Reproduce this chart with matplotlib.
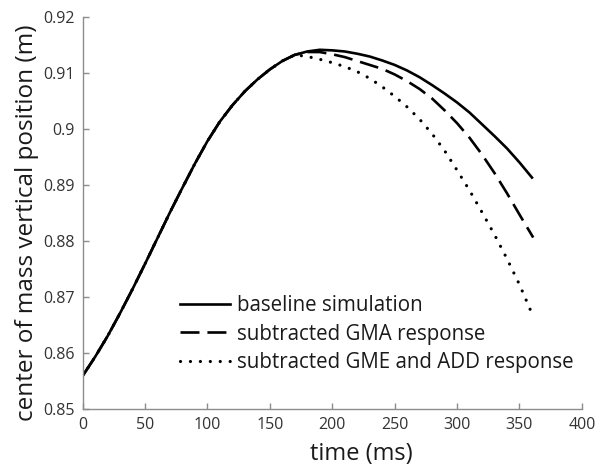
import numpy as np
import matplotlib
matplotlib.use("Agg")
import matplotlib.pyplot as plt

plt.rcParams['font.family'] = ['Open Sans', 'DejaVu Sans']

# shared rising part (all three curves overlap here)
t_rise = [0, 10, 20, 30, 40, 50, 60, 70, 80, 90, 100, 110, 120, 130, 140, 150, 160, 170]
y_rise = [0.8559, 0.8593, 0.8630, 0.8671, 0.8714, 0.8759, 0.8805, 0.8851, 0.8895,
          0.8938, 0.8978, 0.9013, 0.9042, 0.9067, 0.9088, 0.9106, 0.9121, 0.9132]

# baseline simulation
t_base = [180, 190, 200, 210, 220, 230, 240, 250, 260, 270, 280, 290, 300, 310,
          320, 330, 340, 350, 360]
y_base = [0.9138, 0.9141, 0.9140, 0.9138, 0.9134, 0.9129, 0.9122, 0.9114, 0.9104,
          0.9092, 0.9078, 0.9063, 0.9047, 0.9029, 0.9008, 0.8987, 0.8965, 0.8940,
          0.8913]

# subtracted GMA response
t_gma = [180, 190, 200, 210, 220, 230, 240, 250, 260, 270, 280, 290, 300, 310,
         320, 330, 340, 350, 361]
y_gma = [0.9137, 0.9137, 0.9133, 0.9128, 0.9121, 0.9114, 0.9107, 0.9097, 0.9085,
         0.9071, 0.9054, 0.9033, 0.9010, 0.8984, 0.8954, 0.8921, 0.8885, 0.8847,
         0.8806]

# subtracted GME and ADD response
t_gme = [180, 190, 200, 210, 220, 230, 240, 250, 260, 270, 280, 290, 300, 310,
         320, 330, 340, 350, 361]
y_gme = [0.9129, 0.9124, 0.9118, 0.9111, 0.9102, 0.9090, 0.9075, 0.9058, 0.9039,
         0.9017, 0.8991, 0.8961, 0.8926, 0.8890, 0.8851, 0.8811, 0.8768, 0.8722,
         0.8665]

labels = ["baseline simulation", "subtracted GMA response",
          "subtracted GME and ADD response"]

fig = plt.figure(figsize=(6.03, 4.66), dpi=100)
ax = fig.add_axes([0.137, 0.1223, 0.828, 0.8418])

lw = 1.9
ax.plot(t_rise + t_base, y_rise + y_base, color="k", lw=lw, label=labels[0])
ax.plot(t_rise + t_gma, y_rise + y_gma, color="k", lw=lw,
        linestyle=(0, (7.2, 3.0)), label=labels[1])
ax.plot(t_rise + t_gme, y_rise + y_gme, color="k", lw=2.3,
        linestyle=(0, (0.01, 3.1)), dash_capstyle="round", label=labels[2])

ax.set_xlim(0, 400)
ax.set_ylim(0.85, 0.92)
ax.set_xticks(np.arange(0, 401, 50))
ax.set_yticks([0.85, 0.86, 0.87, 0.88, 0.89, 0.9, 0.91, 0.92])
ax.set_yticklabels(["0.85", "0.86", "0.87", "0.88", "0.89", "0.9", "0.91", "0.92"])

for side in ["top", "right"]:
    ax.spines[side].set_visible(False)
for side in ["left", "bottom"]:
    ax.spines[side].set_color("#8c8c8c")
    ax.spines[side].set_linewidth(1.0)
ax.tick_params(direction="in", length=4, width=1.0, color="#8c8c8c",
               labelsize=11.5, labelcolor="#333333", pad=6)

ax.set_xlabel("time (ms)", fontsize=17, color="#1a1a1a", labelpad=0)
ax.xaxis.set_label_coords(0.559, -0.085)
ax.set_ylabel("center of mass vertical position (m)", fontsize=17.5,
              color="#1a1a1a", va="center")
ax.yaxis.set_label_coords(-0.112, 0.475)

leg = ax.legend(loc="center left", bbox_to_anchor=(0.195, 0.191), frameon=False,
                fontsize=14.8, handlelength=2.45, handletextpad=0.33,
                labelspacing=0.38, borderpad=0, borderaxespad=0)
for txt in leg.get_texts():
    txt.set_color("#1a1a1a")

fig.savefig("out.png", dpi=100)
